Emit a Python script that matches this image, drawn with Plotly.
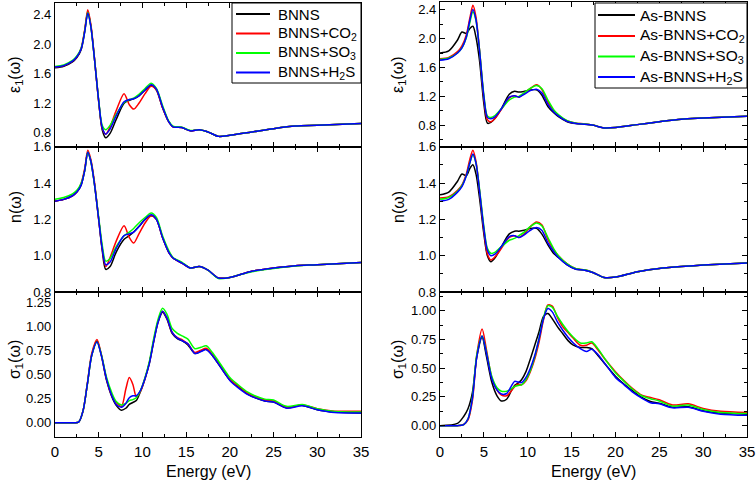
import plotly.graph_objects as go

# ---------------- data ----------------
GE = [0, 1, 2, 2.5, 3, 3.4, 3.75, 4.1, 4.5, 5, 5.4, 5.8, 6.3, 7, 7.9, 8.5, 9, 9.6, 10.3, 11,
      11.6, 12.3, 13, 13.5, 14.5, 15.5, 16.5, 17.5, 18.7, 20, 22.5, 25, 27.5, 30, 35]
GS = [0, 2, 2.7, 3.2, 3.7, 4.2, 4.8, 5.3, 5.9, 6.5, 7, 7.6, 8.1, 8.5, 8.9, 9.3, 9.8, 10.3, 10.8,
      11.3, 11.8, 12.3, 12.8, 13.4, 14, 14.6, 15.2, 16, 16.7, 17.3, 18, 19, 20, 21, 22, 23, 24,
      25, 26.5, 28.3, 30, 32, 35]

names_L = ["BNNS", "BNNS+CO<sub>2</sub>", "BNNS+SO<sub>3</sub>", "BNNS+H<sub>2</sub>S"]
names_R = ["As-BNNS", "As-BNNS+CO<sub>2</sub>", "As-BNNS+SO<sub>3</sub>", "As-BNNS+H<sub>2</sub>S"]
colors = ["#000000", "#ff0000", "#00ff00", "#0000ff"]

# left: epsilon_1
eps_L_0 = [1.68, 1.70, 1.76, 1.82, 1.93, 2.18, 2.44, 2.25, 1.82, 1.22, 0.84, 0.73, 0.79, 0.98, 1.20,
           1.24, 1.26, 1.30, 1.38, 1.44, 1.38, 1.14, 0.95, 0.88, 0.87, 0.825, 0.84, 0.81, 0.75, 0.765,
           0.81, 0.855, 0.89, 0.90, 0.925]
eps_L_1 = [1.69, 1.71, 1.77, 1.83, 1.95, 2.20, 2.47, 2.27, 1.83, 1.22, 0.86, 0.78, 0.88, 1.10, 1.33,
           1.18, 1.12, 1.20, 1.33, 1.43, 1.38, 1.14, 0.95, 0.88, 0.87, 0.825, 0.84, 0.81, 0.75, 0.765,
           0.81, 0.855, 0.89, 0.90, 0.925]
eps_L_2 = [1.70, 1.72, 1.78, 1.84, 1.95, 2.18, 2.43, 2.24, 1.82, 1.24, 0.90, 0.84, 0.90, 1.05, 1.21,
           1.25, 1.27, 1.32, 1.40, 1.47, 1.40, 1.17, 0.96, 0.89, 0.875, 0.83, 0.84, 0.81, 0.75, 0.765,
           0.81, 0.855, 0.89, 0.90, 0.925]
eps_L_3 = [1.69, 1.71, 1.77, 1.83, 1.94, 2.17, 2.42, 2.24, 1.82, 1.23, 0.87, 0.78, 0.85, 1.03, 1.22,
           1.25, 1.26, 1.30, 1.38, 1.45, 1.39, 1.15, 0.95, 0.88, 0.87, 0.825, 0.84, 0.81, 0.75, 0.765,
           0.81, 0.855, 0.89, 0.90, 0.925]

# left: n
n_L_0 = [1.30, 1.31, 1.33, 1.35, 1.39, 1.47, 1.57, 1.52, 1.40, 1.20, 1.03, 0.925, 0.94, 1.02, 1.09,
         1.11, 1.13, 1.16, 1.20, 1.22, 1.20, 1.10, 1.02, 0.987, 0.96, 0.932, 0.94, 0.92, 0.877, 0.88,
         0.914, 0.932, 0.945, 0.95, 0.963]
n_L_1 = [1.30, 1.31, 1.33, 1.35, 1.40, 1.48, 1.58, 1.53, 1.41, 1.20, 1.04, 0.94, 0.99, 1.08, 1.165,
         1.10, 1.07, 1.12, 1.18, 1.22, 1.20, 1.10, 1.02, 0.987, 0.96, 0.932, 0.94, 0.92, 0.877, 0.88,
         0.914, 0.932, 0.945, 0.95, 0.963]
n_L_2 = [1.31, 1.32, 1.34, 1.36, 1.40, 1.47, 1.57, 1.52, 1.40, 1.21, 1.06, 0.97, 0.985, 1.05, 1.11,
         1.13, 1.15, 1.18, 1.21, 1.235, 1.21, 1.11, 1.03, 0.99, 0.965, 0.932, 0.94, 0.92, 0.874, 0.88,
         0.912, 0.93, 0.943, 0.95, 0.962]
n_L_3 = [1.30, 1.31, 1.33, 1.35, 1.39, 1.47, 1.57, 1.52, 1.40, 1.20, 1.04, 0.95, 0.965, 1.04, 1.11,
         1.12, 1.13, 1.16, 1.20, 1.225, 1.20, 1.10, 1.02, 0.987, 0.96, 0.932, 0.94, 0.92, 0.877, 0.88,
         0.914, 0.932, 0.945, 0.95, 0.963]

# left: sigma_1
s_L_0 = [0, 0, 0.005, 0.12, 0.40, 0.70, 0.85, 0.70, 0.44, 0.27, 0.18, 0.13, 0.15, 0.19, 0.21, 0.23,
         0.33, 0.46, 0.62, 0.85, 1.05, 1.15, 1.08, 0.93, 0.875, 0.85, 0.81, 0.72, 0.745, 0.765, 0.70,
         0.57, 0.445, 0.37, 0.30, 0.255, 0.225, 0.215, 0.155, 0.18, 0.135, 0.11, 0.10]
s_L_1 = [0, 0, 0.005, 0.12, 0.41, 0.72, 0.865, 0.71, 0.45, 0.28, 0.21, 0.17, 0.35, 0.47, 0.40, 0.27,
         0.33, 0.46, 0.63, 0.86, 1.06, 1.16, 1.09, 0.94, 0.885, 0.86, 0.82, 0.73, 0.755, 0.775, 0.71,
         0.58, 0.45, 0.38, 0.31, 0.265, 0.235, 0.225, 0.16, 0.185, 0.145, 0.12, 0.12]
s_L_2 = [0, 0, 0.005, 0.12, 0.40, 0.70, 0.84, 0.71, 0.47, 0.31, 0.22, 0.185, 0.20, 0.23, 0.24, 0.26,
         0.34, 0.47, 0.64, 0.88, 1.08, 1.19, 1.13, 0.98, 0.93, 0.90, 0.87, 0.77, 0.785, 0.80, 0.73,
         0.60, 0.47, 0.39, 0.32, 0.275, 0.245, 0.235, 0.17, 0.19, 0.145, 0.115, 0.11]
s_L_3 = [0, 0, 0.005, 0.12, 0.40, 0.70, 0.84, 0.70, 0.45, 0.28, 0.19, 0.16, 0.20, 0.26, 0.28, 0.28,
         0.34, 0.46, 0.62, 0.85, 1.05, 1.16, 1.09, 0.94, 0.88, 0.85, 0.82, 0.72, 0.74, 0.76, 0.70,
         0.57, 0.44, 0.36, 0.295, 0.255, 0.225, 0.215, 0.15, 0.175, 0.135, 0.105, 0.10]

# right: epsilon_1
eps_R_0 = [1.80, 1.83, 1.98, 2.09, 2.07, 2.14, 2.17, 2.02, 1.70, 1.10, 0.83, 0.84, 0.90, 1.03, 1.23,
           1.27, 1.26, 1.27, 1.29, 1.29, 1.22, 1.06, 0.97, 0.92, 0.85, 0.825, 0.815, 0.80, 0.765, 0.77,
           0.81, 0.85, 0.885, 0.90, 0.925]
eps_R_1 = [1.72, 1.74, 1.82, 1.90, 2.05, 2.28, 2.46, 2.30, 1.85, 1.18, 0.88, 0.85, 0.90, 1.02, 1.18,
           1.21, 1.19, 1.24, 1.31, 1.36, 1.30, 1.12, 1.00, 0.94, 0.86, 0.83, 0.82, 0.80, 0.765, 0.77,
           0.81, 0.85, 0.885, 0.90, 0.925]
eps_R_2 = [1.71, 1.73, 1.80, 1.87, 2.01, 2.22, 2.37, 2.25, 1.85, 1.22, 0.93, 0.91, 0.94, 1.03, 1.15,
           1.19, 1.20, 1.25, 1.31, 1.35, 1.31, 1.15, 1.01, 0.95, 0.865, 0.83, 0.82, 0.80, 0.765, 0.77,
           0.81, 0.85, 0.885, 0.90, 0.925]
eps_R_3 = [1.70, 1.72, 1.80, 1.87, 2.02, 2.25, 2.40, 2.26, 1.84, 1.20, 0.91, 0.89, 0.92, 1.03, 1.19,
           1.21, 1.19, 1.23, 1.28, 1.30, 1.25, 1.09, 0.98, 0.93, 0.855, 0.825, 0.815, 0.80, 0.765, 0.77,
           0.81, 0.85, 0.885, 0.90, 0.925]

# right: n
n_R_0 = [1.335, 1.35, 1.41, 1.45, 1.44, 1.48, 1.50, 1.45, 1.32, 1.12, 1.00, 0.967, 0.99, 1.05, 1.12,
         1.135, 1.135, 1.14, 1.15, 1.15, 1.12, 1.06, 1.01, 0.99, 0.949, 0.925, 0.92, 0.906, 0.88, 0.882,
         0.912, 0.93, 0.94, 0.948, 0.96]
n_R_1 = [1.317, 1.325, 1.36, 1.39, 1.45, 1.53, 1.58, 1.52, 1.36, 1.14, 1.01, 0.976, 0.995, 1.04, 1.10,
         1.11, 1.10, 1.12, 1.16, 1.185, 1.17, 1.09, 1.03, 1.0, 0.955, 0.928, 0.922, 0.906, 0.88, 0.882,
         0.912, 0.93, 0.94, 0.948, 0.96]
n_R_2 = [1.31, 1.32, 1.355, 1.385, 1.44, 1.51, 1.555, 1.51, 1.37, 1.16, 1.04, 1.013, 1.02, 1.05, 1.085,
         1.095, 1.11, 1.13, 1.16, 1.18, 1.165, 1.10, 1.035, 1.0, 0.955, 0.928, 0.922, 0.906, 0.88, 0.882,
         0.912, 0.93, 0.94, 0.948, 0.96]
n_R_3 = [1.30, 1.31, 1.35, 1.38, 1.44, 1.51, 1.56, 1.51, 1.36, 1.15, 1.03, 1.0, 1.01, 1.05, 1.105,
         1.11, 1.10, 1.115, 1.14, 1.155, 1.14, 1.07, 1.02, 0.99, 0.95, 0.925, 0.92, 0.906, 0.88, 0.882,
         0.912, 0.93, 0.94, 0.948, 0.96]

# right: sigma_1
s_R_0 = [0, 0.02, 0.08, 0.15, 0.29, 0.60, 0.77, 0.60, 0.38, 0.26, 0.215, 0.23, 0.30, 0.35, 0.37, 0.40,
         0.47, 0.58, 0.70, 0.82, 0.95, 0.975, 0.93, 0.86, 0.80, 0.74, 0.70, 0.68, 0.68, 0.67, 0.61,
         0.52, 0.43, 0.36, 0.30, 0.245, 0.21, 0.195, 0.16, 0.165, 0.13, 0.11, 0.10]
s_R_1 = [0, 0, 0.01, 0.05, 0.22, 0.62, 0.84, 0.66, 0.42, 0.31, 0.265, 0.26, 0.30, 0.34, 0.36, 0.355,
         0.39, 0.47, 0.58, 0.73, 0.92, 1.05, 1.04, 0.94, 0.86, 0.81, 0.76, 0.70, 0.70, 0.72, 0.66,
         0.56, 0.47, 0.39, 0.32, 0.265, 0.245, 0.225, 0.18, 0.19, 0.15, 0.125, 0.115]
s_R_2 = [0, 0, 0.01, 0.06, 0.25, 0.62, 0.78, 0.64, 0.43, 0.33, 0.30, 0.30, 0.32, 0.34, 0.35, 0.355,
         0.40, 0.48, 0.60, 0.76, 0.94, 1.045, 1.03, 0.95, 0.88, 0.82, 0.77, 0.72, 0.72, 0.73, 0.67,
         0.56, 0.46, 0.385, 0.315, 0.26, 0.235, 0.215, 0.17, 0.18, 0.14, 0.115, 0.105]
s_R_3 = [0, 0, 0.01, 0.06, 0.24, 0.60, 0.78, 0.63, 0.41, 0.31, 0.275, 0.28, 0.34, 0.385, 0.38, 0.375,
         0.42, 0.50, 0.61, 0.76, 0.93, 1.02, 0.99, 0.90, 0.83, 0.77, 0.72, 0.67, 0.645, 0.665, 0.62,
         0.52, 0.42, 0.355, 0.29, 0.24, 0.20, 0.19, 0.155, 0.16, 0.125, 0.10, 0.09]

X_TICKS = [0, 5, 10, 15, 20, 25, 30, 35]

# ---------------- figure ----------------
W, H = 756, 480
FONT = "Liberation Sans, Arial, sans-serif"
fig = go.Figure()

panels = [
    (0, 0, GE, [eps_L_0, eps_L_1, eps_L_2, eps_L_3], names_L),
    (1, 0, GE, [n_L_0, n_L_1, n_L_2, n_L_3], names_L),
    (2, 0, GS, [s_L_0, s_L_1, s_L_2, s_L_3], names_L),
    (0, 1, GE, [eps_R_0, eps_R_1, eps_R_2, eps_R_3], names_R),
    (1, 1, GE, [n_R_0, n_R_1, n_R_2, n_R_3], names_R),
    (2, 1, GS, [s_R_0, s_R_1, s_R_2, s_R_3], names_R),
]

xdom = [[55 / W, 361 / W], [440 / W, 747 / W]]
ydom = {
    (0, 0): [1 - 146.7 / H, 1 - 3 / H], (0, 1): [1 - 146.7 / H, 1 - 2 / H],
    (1, 0): [1 - 292 / H, 1 - 146.7 / H], (1, 1): [1 - 292 / H, 1 - 146.7 / H],
    (2, 0): [1 - 436.7 / H, 1 - 292 / H], (2, 1): [1 - 436.7 / H, 1 - 292 / H],
}
yranges = {
    (0, 0): [0.61, 2.56], (0, 1): [0.505, 2.505],
    (1, 0): [0.8, 1.6], (1, 1): [0.8, 1.6],
    (2, 0): [-0.146, 1.36], (2, 1): [-0.096, 1.163],
}
ydt = {0: (0.4, 0.2, ".1f"), 1: (0.2, 0.1, ".1f"), 2: (0.25, 0.125, ".2f")}

for (r, c, grid, series, names) in panels:
    idx = r * 2 + c + 1
    xa = "x" if idx == 1 else f"x{idx}"
    ya = "y" if idx == 1 else f"y{idx}"
    for k in range(4):
        fig.add_trace(go.Scatter(
            x=grid, y=series[k], mode="lines", name=names[k],
            line=dict(color=colors[k], width=1.5, shape="spline", smoothing=0.8),
            xaxis=xa, yaxis=ya, showlegend=False))
    dt, mdt, fmt = ydt[r]
    xkey = "xaxis" if idx == 1 else f"xaxis{idx}"
    ykey = "yaxis" if idx == 1 else f"yaxis{idx}"
    fig.layout[xkey] = dict(
        domain=xdom[c], range=[0, 35], anchor=ya, tickvals=X_TICKS, automargin=False,
        showticklabels=(r == 2), ticks="inside", ticklen=5, tickwidth=1, tickcolor="black",
        ticklabelstandoff=1,
        minor=dict(dtick=2.5, ticks="inside", ticklen=3, tickcolor="black"),
        showline=True, linecolor="black", linewidth=1.2, mirror="ticks",
        showgrid=False, zeroline=False,
        tickfont=dict(family=FONT, size=15, color="black"))
    fig.layout[ykey] = dict(
        domain=ydom[(r, c)], range=yranges[(r, c)], anchor=xa, dtick=dt, tick0=0,
        automargin=False,
        tickformat=fmt, ticks=("inside" if c == 1 else ""), ticklen=5, tickcolor="black",
        minor=(dict(dtick=mdt, ticks="inside", ticklen=3, tickcolor="black") if c == 1 else None),
        showline=True, linecolor="black", linewidth=1.2, mirror=("ticks" if c == 1 else True),
        showgrid=False, zeroline=False,
        tickfont=dict(family=FONT, size=13, color="black"))

# ---- legends (box + line samples + labels), in pixel layout converted to paper ----
shapes = []
ann = []
legend_specs = [
    ((232, 361, 3, 83), 236, 270, 276, [14, 33.5, 53, 72.5], 15, names_L),
    ((595, 747, 3, 88), 598, 635, 638, [15, 36, 56.5, 77], 15.5, names_R),
]
for (bx, lx0, lx1, tx, ys, fs, names) in legend_specs:
    shapes.append(dict(type="rect", xref="paper", yref="paper",
                       x0=bx[0] / W, x1=bx[1] / W, y0=1 - bx[3] / H, y1=1 - bx[2] / H,
                       line=dict(color="black", width=1), fillcolor="white", layer="above"))
    for k in range(4):
        shapes.append(dict(type="line", xref="paper", yref="paper",
                           x0=lx0 / W, x1=lx1 / W, y0=1 - ys[k] / H, y1=1 - ys[k] / H,
                           line=dict(color=colors[k], width=2), layer="above"))
        ann.append(dict(text=names[k], x=tx / W, y=1 - ys[k] / H, xref="paper", yref="paper",
                        showarrow=False, xanchor="left", yanchor="middle",
                        font=dict(family=FONT, size=fs, color="black")))

ytitles = ["ε<sub>1</sub>(ω)", "n(ω)", "σ<sub>1</sub>(ω)"]
ycent = [75, 207, 360]
for c, xc in enumerate([15, 398]):
    for r in range(3):
        ann.append(dict(text=ytitles[r], x=xc / W, y=1 - ycent[r] / H, xref="paper", yref="paper",
                        showarrow=False, textangle=-90, xanchor="center", yanchor="middle",
                        font=dict(family=FONT, size=16, color="black")))
for xc in [208, 593]:
    ann.append(dict(text="Energy (eV)", x=xc / W, y=1 - 471 / H, xref="paper", yref="paper",
                    showarrow=False, xanchor="center", yanchor="middle",
                    font=dict(family=FONT, size=16, color="black")))

fig.update_layout(
    width=W, height=H, margin=dict(l=0, r=0, t=0, b=0),
    paper_bgcolor="white", plot_bgcolor="white", annotations=ann, shapes=shapes,
    showlegend=False, font=dict(family=FONT, color="black"))

fig.write_html(
    "out.html", config={"displayModeBar": False},
    post_script="document.body.style.margin='0px';document.body.style.overflow='hidden';")
